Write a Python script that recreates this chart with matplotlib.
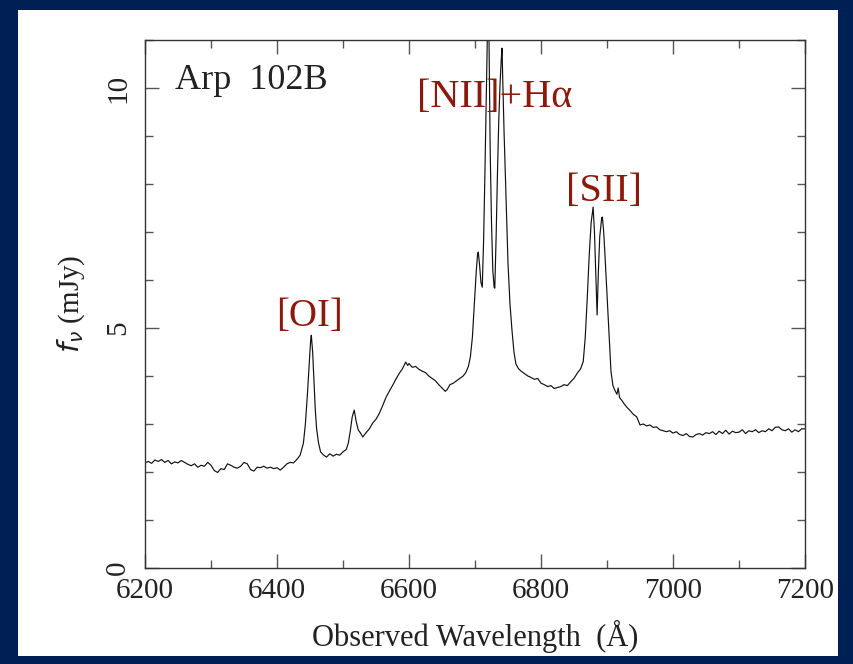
import matplotlib
matplotlib.use("Agg")
import matplotlib.pyplot as plt
from matplotlib.patches import Rectangle
from matplotlib.ticker import MultipleLocator

# ---- data ----
wavelength = [
    6200, 6205, 6210, 6215, 6220, 6225, 6230, 6235, 6240, 6245, 6250, 6255, 6260, 6265, 6270,
    6275, 6280, 6285, 6290, 6295, 6300, 6305, 6310, 6315, 6320, 6325, 6330, 6335, 6340, 6345,
    6350, 6355, 6360, 6365, 6370, 6375, 6380, 6385, 6390, 6395, 6400, 6405, 6410, 6415, 6420,
    6425, 6430, 6435, 6440, 6443, 6446, 6449, 6451, 6452, 6454, 6456, 6458, 6460, 6463, 6466,
    6470, 6475, 6480, 6485, 6490, 6495, 6500, 6505, 6508, 6511, 6514, 6517, 6520, 6523, 6527,
    6530, 6535, 6540, 6545, 6550, 6555, 6560, 6565, 6570, 6575, 6580, 6585, 6590, 6595, 6598,
    6600, 6605, 6610, 6615, 6620, 6625, 6630, 6635, 6640, 6645, 6650, 6655, 6658, 6662, 6667,
    6672, 6677, 6682, 6686, 6690, 6693, 6696, 6699, 6702, 6704, 6705, 6707, 6709, 6711, 6713,
    6715, 6717, 6719, 6720, 6721, 6723, 6725, 6727, 6729, 6730, 6732, 6734, 6736, 6738, 6740,
    6741, 6742, 6744, 6747, 6750, 6753, 6756, 6759, 6762, 6766, 6770, 6775, 6780, 6785, 6790,
    6795, 6800, 6805, 6810, 6815, 6820, 6825, 6830, 6835, 6840, 6845, 6850, 6855, 6860, 6864,
    6867, 6870, 6873, 6876, 6879, 6881, 6883, 6885, 6887, 6889, 6892, 6893, 6895, 6897, 6900,
    6903, 6906, 6909, 6912, 6915, 6917, 6919, 6922, 6926, 6930, 6935, 6940, 6945, 6948, 6950,
    6955, 6960, 6965, 6970, 6975, 6980, 6985, 6990, 6995, 7000, 7005, 7010, 7015, 7020, 7025,
    7030, 7035, 7040, 7045, 7050, 7055, 7060, 7065, 7070, 7075, 7080, 7085, 7090, 7095, 7100,
    7105, 7110, 7115, 7120, 7125, 7130, 7135, 7140, 7145, 7150, 7155, 7160, 7165, 7170, 7175,
    7180, 7185, 7190, 7195, 7200,
]
flux = [
    2.19, 2.22, 2.18, 2.25, 2.22, 2.26, 2.20, 2.24, 2.17, 2.21, 2.19, 2.24, 2.20, 2.16, 2.13,
    2.17, 2.10, 2.14, 2.12, 2.20, 2.14, 2.03, 1.99, 2.07, 2.05, 2.17, 2.14, 2.10, 2.08, 2.12,
    2.20, 2.17, 2.05, 2.02, 2.10, 2.09, 2.12, 2.08, 2.10, 2.07, 2.09, 2.04, 2.10, 2.17, 2.20,
    2.19, 2.26, 2.35, 2.60, 3.00, 3.60, 4.30, 4.75, 4.85, 4.50, 3.90, 3.30, 2.90, 2.60, 2.42,
    2.36, 2.31, 2.38, 2.33, 2.37, 2.35, 2.42, 2.47, 2.60, 2.85, 3.15, 3.29, 3.05, 2.88, 2.80,
    2.73, 2.82, 2.90, 3.02, 3.10, 3.22, 3.38, 3.55, 3.68, 3.80, 3.93, 4.05, 4.15, 4.29, 4.22,
    4.26, 4.18, 4.20, 4.14, 4.10, 4.07, 4.00, 3.95, 3.90, 3.82, 3.75, 3.68, 3.72, 3.82, 3.85,
    3.90, 3.95, 4.00, 4.07, 4.20, 4.40, 4.80, 5.50, 6.20, 6.55, 6.58, 6.30, 5.95, 5.85, 6.80,
    8.20, 9.75, 11.30, 11.80, 11.30, 8.70, 7.20, 6.20, 5.85, 5.83, 6.90, 8.20, 9.33, 10.10, 10.65,
    10.83, 10.20, 9.10, 7.70, 6.35, 5.50, 4.96, 4.50, 4.25, 4.15, 4.10, 4.05, 4.00, 3.97, 3.93,
    3.95, 3.85, 3.82, 3.78, 3.80, 3.74, 3.76, 3.78, 3.82, 3.80, 3.88, 3.95, 4.06, 4.15, 4.30,
    4.80, 5.60, 6.50, 7.20, 7.52, 7.00, 6.10, 5.27, 6.20, 6.90, 7.30, 7.31, 7.00, 6.50, 5.70,
    4.90, 4.10, 3.80, 3.70, 3.62, 3.75, 3.55, 3.50, 3.42, 3.35, 3.28, 3.20, 3.15, 3.05, 2.98,
    3.00, 2.96, 2.98, 2.93, 2.94, 2.88, 2.86, 2.84, 2.86, 2.81, 2.84, 2.78, 2.76, 2.80, 2.74,
    2.73, 2.78, 2.80, 2.77, 2.82, 2.80, 2.84, 2.78, 2.85, 2.80, 2.87, 2.79, 2.85, 2.82, 2.83,
    2.88, 2.80, 2.86, 2.84, 2.88, 2.82, 2.86, 2.84, 2.90, 2.86, 2.93, 2.94, 2.88, 2.86, 2.90,
    2.83, 2.88, 2.84, 2.90, 2.90,
]

x_ticks = [6200, 6400, 6600, 6800, 7000, 7200]
y_ticks = [0, 5, 10]
line_labels = ["[OI]", "[NII]+H\u03b1", "[SII]"]
label_wavelengths = [6449, 6730, 6895]
label_fluxes = [5.05, 9.6, 7.65]

# ---- figure ----
W, H = 854, 664
fig = plt.figure(figsize=(W / 100, H / 100), dpi=100)
fig.patch.set_facecolor("#001f55")
fig.add_artist(Rectangle((18 / W, 8 / H), (838 - 18) / W, (654 - 8) / H,
                         transform=fig.transFigure, facecolor="white",
                         edgecolor="none", zorder=-10))

ax = fig.add_axes([145 / W, (H - 568) / H, 660 / W, 528 / H])
ax.set_zorder(5)
ax.set_facecolor("white")
ax.plot(wavelength, flux, color="#111111", lw=0.85)

ax.set_xlim(6200, 7200)
ax.set_ylim(0, 11)
ax.set_xticks(x_ticks)
ax.set_yticks(y_ticks)
ax.xaxis.set_minor_locator(MultipleLocator(100))
ax.yaxis.set_minor_locator(MultipleLocator(1))

tick_font = "Liberation Serif"
ax.tick_params(which="both", direction="in", top=True, right=True,
               color="#555555", width=1.0)
ax.tick_params(which="major", length=10)
ax.tick_params(which="minor", length=5.5)
ax.tick_params(axis="x", which="major", labelsize=21, pad=7, labelcolor="#222222")
ax.tick_params(axis="y", which="major", labelsize=21, pad=10, labelcolor="#222222")
for lab in ax.get_xticklabels():
    lab.set_fontfamily(tick_font)
for lab in ax.get_yticklabels():
    lab.set_fontfamily(tick_font)
    lab.set_rotation(90)
    lab.set_va("center")

for sp in ax.spines.values():
    sp.set_color("#333333")
    sp.set_linewidth(1.0)

ax.set_xlabel("Observed Wavelength  (\u00c5)", fontsize=22, family=tick_font,
              color="#222222", labelpad=12)
ax.set_ylabel(r"$f_\nu$ (mJy)", fontsize=21, family=tick_font, color="#222222",
              labelpad=13)

ax.text(0.045, 0.955, "Arp  102B", transform=ax.transAxes, fontsize=26,
        family=tick_font, color="#222222", ha="left", va="top")

sizes = [28, 29, 29]
for txt, lx, ly, fs in zip(line_labels, label_wavelengths, label_fluxes, sizes):
    ax.text(lx, ly, txt, fontsize=fs, family="Liberation Serif", color="#8c1a0c",
            ha="center", va="baseline")

fig.savefig("out.png", dpi=100, facecolor=fig.get_facecolor())
